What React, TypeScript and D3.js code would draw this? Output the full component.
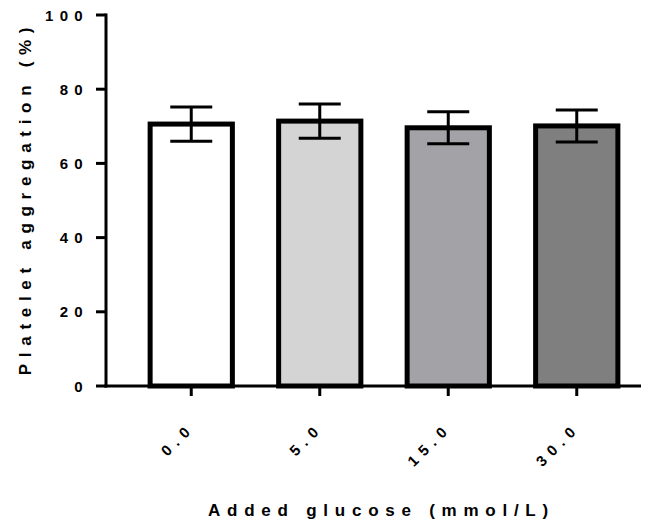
import React from "react";
import * as d3 from "d3";

const categories = ["0.0", "5.0", "15.0", "30.0"];
const means = [70.6, 71.4, 69.6, 70.1];
const sds = [4.6, 4.6, 4.3, 4.3];
const colors = ["#ffffff", "#d4d4d4", "#a3a2a6", "#7f7f7f"];
const yTicks = [0, 20, 40, 60, 80, 100];

export default function App() {
  const W = 656, H = 525;
  const x0 = 106, yBottom = 386, yTop = 15;
  const y = d3.scaleLinear().domain([0, 100]).range([yBottom, yTop]);
  const x = d3.scaleBand().domain(categories).range([127, 641]).paddingInner(0.36).paddingOuter(0.18);
  const font = "'Liberation Sans', Arial, sans-serif";
  return (
    <svg width={W} height={H} style={{ position: "absolute", left: 0, top: 0 }}>
      {categories.map((c, i) => {
        const bx = x(c)!;
        const bw = x.bandwidth();
        const cx = bx + bw / 2;
        const top = y(means[i]);
        return (
          <g key={c}>
            <rect x={bx} y={top} width={bw} height={yBottom - top} fill={colors[i]} stroke="#000" strokeWidth={5} />
            <line x1={cx} x2={cx} y1={y(means[i] + sds[i])} y2={y(means[i] - sds[i])} stroke="#000" strokeWidth={3} />
            <line x1={cx - 21} x2={cx + 21} y1={y(means[i] + sds[i])} y2={y(means[i] + sds[i])} stroke="#000" strokeWidth={3} />
            <line x1={cx - 21} x2={cx + 21} y1={y(means[i] - sds[i])} y2={y(means[i] - sds[i])} stroke="#000" strokeWidth={3} />
            <line x1={cx} x2={cx} y1={yBottom} y2={yBottom + 10} stroke="#000" strokeWidth={3} />
            <text
              transform={`translate(${cx + 4},${yBottom + 43}) rotate(-45)`}
              textAnchor="end"
              fontFamily={font}
              fontWeight="bold"
              fontSize={15}
              letterSpacing={6.3}
            >
              {c}
            </text>
          </g>
        );
      })}
      <line x1={x0} x2={x0} y1={yTop - 1.5} y2={yBottom + 1.5} stroke="#000" strokeWidth={3} />
      <line x1={x0 - 1.5} x2={641} y1={yBottom} y2={yBottom} stroke="#000" strokeWidth={3} />
      {yTicks.map((t) => (
        <g key={t}>
          <line x1={x0 - 10} x2={x0} y1={y(t)} y2={y(t)} stroke="#000" strokeWidth={3} />
          <text x={x0 - 17} y={y(t) + 5.5} textAnchor="end" fontFamily={font} fontWeight="bold" fontSize={15} letterSpacing={6.3}>
            {t}
          </text>
        </g>
      ))}
      <text
        transform={`translate(31,${198}) rotate(-90)`}
        textAnchor="middle"
        fontFamily={font}
        fontWeight="bold"
        fontSize={17}
        letterSpacing={6.7}
      >
        Platelet aggregation (%)
      </text>
      <text x={381.5} y={516} textAnchor="middle" fontFamily={font} fontWeight="bold" fontSize={17} letterSpacing={6.75}>
        Added glucose (mmol/L)
      </text>
    </svg>
  );
}
